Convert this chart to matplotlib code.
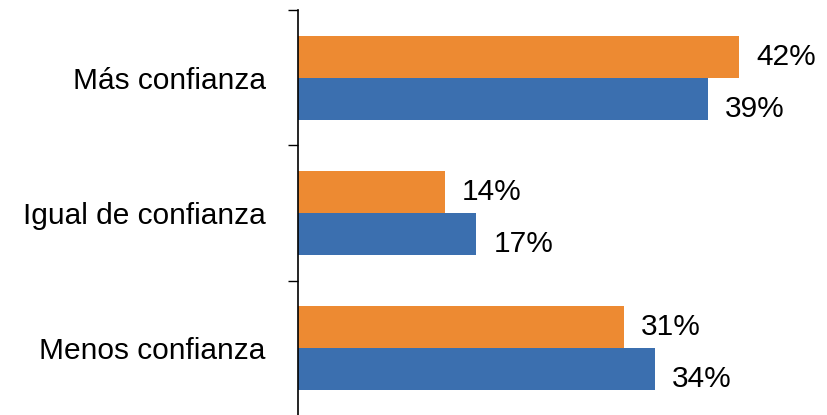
import numpy as np
import matplotlib.pyplot as plt

plt.rcParams['font.family'] = ['Liberation Sans', 'DejaVu Sans']

categories = ['Más confianza', 'Igual de confianza', 'Menos confianza']
orange_vals = [42, 14, 31]
blue_vals = [39, 17, 34]

ORANGE = '#ED8A32'
BLUE = '#3B6FAF'

W, H = 827, 415
fig = plt.figure(figsize=(W / 100, H / 100), dpi=100)
# axes placed in pixel terms: y axis at x=297, top at y=10
ax = fig.add_axes([297.5 / W, (H - 416) / H, 526 / W, 406 / H])

y = np.arange(len(categories))
h = 0.31
ax.barh(y - h / 2, orange_vals, height=h, color=ORANGE)
ax.barh(y + h / 2, blue_vals, height=h, color=BLUE)

for yi, v in zip(y, orange_vals):
    ax.annotate(f'{v}%', (v, yi - h / 2), xytext=(17, 0), textcoords='offset pixels',
                va='center', ha='left', fontsize=21.5)
for yi, v in zip(y, blue_vals):
    ax.annotate(f'{v}%', (v, yi + h / 2), xytext=(17, -10), textcoords='offset pixels',
                va='center', ha='left', fontsize=21.5)

ax.set_xlim(0, 50)
ax.set_ylim(len(categories) - 0.5, -0.5)

ax.set_yticks(y)
ax.set_yticklabels(categories, fontsize=21.5)
ax.tick_params(axis='y', which='major', length=0, pad=23)
ax.set_yticks(np.arange(len(categories) + 1) - 0.5, minor=True)
ax.tick_params(axis='y', which='minor', length=7, width=1, direction='out')

ax.set_xticks([])
for s in ['top', 'right', 'bottom']:
    ax.spines[s].set_visible(False)
ax.spines['left'].set_linewidth(1.2)

fig.savefig('out.png', dpi=100)
